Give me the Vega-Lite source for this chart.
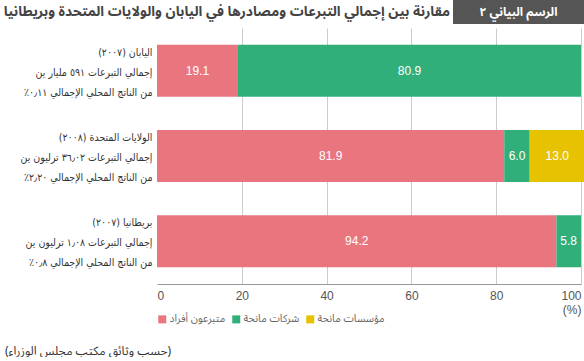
{
  "$schema": "https://vega.github.io/schema/vega-lite/v6.json",
  "padding": 0,
  "background": "white",
  "config": {"view": {"stroke": null}, "font": "Noto Sans Arabic, Noto Kufi Arabic, Noto Naskh Arabic, DejaVu Sans Condensed"},
  "datasets": {
    "header": [{"title": "مقارنة بين إجمالي التبرعات ومصادرها في اليابان والولايات المتحدة وبريطانيا", "tag": "الرسم البياني ٢"}],
    "donations": [
      {"country": "اليابان (٢٠٠٧)|إجمالي التبرعات ٥٩١ مليار ين|من الناتج المحلي الإجمالي ٠٫١١٪", "source": "متبرعون أفراد", "rank": 1, "value": 19.1},
      {"country": "اليابان (٢٠٠٧)|إجمالي التبرعات ٥٩١ مليار ين|من الناتج المحلي الإجمالي ٠٫١١٪", "source": "شركات مانحة", "rank": 2, "value": 80.9},
      {"country": "الولايات المتحدة (٢٠٠٨)|إجمالي التبرعات ٣٦٫٠٢ ترليون ين|من الناتج المحلي الإجمالي ٢٫٢٠٪", "source": "متبرعون أفراد", "rank": 1, "value": 81.9},
      {"country": "الولايات المتحدة (٢٠٠٨)|إجمالي التبرعات ٣٦٫٠٢ ترليون ين|من الناتج المحلي الإجمالي ٢٫٢٠٪", "source": "شركات مانحة", "rank": 2, "value": 6.0},
      {"country": "الولايات المتحدة (٢٠٠٨)|إجمالي التبرعات ٣٦٫٠٢ ترليون ين|من الناتج المحلي الإجمالي ٢٫٢٠٪", "source": "مؤسسات مانحة", "rank": 3, "value": 13.0},
      {"country": "بريطانيا (٢٠٠٧)|إجمالي التبرعات ١٫٠٨ ترليون ين|من الناتج المحلي الإجمالي ٠٫٨٪", "source": "متبرعون أفراد", "rank": 1, "value": 94.2},
      {"country": "بريطانيا (٢٠٠٧)|إجمالي التبرعات ١٫٠٨ ترليون ين|من الناتج المحلي الإجمالي ٠٫٨٪", "source": "شركات مانحة", "rank": 2, "value": 5.8}
    ]
  },
  "spacing": 4,
  "vconcat": [
    {
      "spacing": 0,
      "hconcat": [
        {
          "width": 296, "height": 24,
          "data": {"name": "header"},
          "mark": {"type": "text", "fontSize": 13.8, "fontWeight": "bold", "color": "#444444", "align": "right", "dx": -3, "limit": 448},
          "encoding": {"text": {"field": "title"}, "x": {"value": "width"}}
        },
        {
          "width": 131, "height": 24,
          "view": {"fill": "#555555", "stroke": null},
          "data": {"name": "header"},
          "mark": {"type": "text", "fontSize": 12, "fontWeight": "bold", "color": "white"},
          "encoding": {"text": {"field": "tag"}}
        }
      ]
    },
    {
      "width": 424, "height": 256,
      "data": {"name": "donations"},
      "title": {"text": "(حسب وثائق مكتب مجلس الوزراء)", "orient": "bottom", "anchor": "start", "frame": "bounds", "fontSize": 12, "fontWeight": "normal", "color": "#333333", "offset": 31, "dx": 5},
      "transform": [
        {"stack": "value", "groupby": ["country"], "sort": [{"field": "rank"}], "as": ["v0", "v1"]},
        {"calculate": "(datum.v0 + datum.v1) / 2", "as": "mid"}
      ],
      "encoding": {
        "y": {
          "field": "country", "type": "nominal", "sort": null,
          "scale": {"paddingInner": 0.39, "paddingOuter": 0.195},
          "axis": {"title": null, "domain": false, "ticks": false, "labelExpr": "split('\u202B' + replace(datum.label, /\\|/g, '\u202C|\u202B') + '\u202C', '|')", "labelLineHeight": 20, "labelFontSize": 10.5, "labelFont": "DejaVu Sans Condensed", "labelColor": "#333333", "labelPadding": 5, "labelLimit": 0, "labelAlign": "right", "labelBaseline": "middle", "labelOffset": -18, "minExtent": 157, "maxExtent": 157}
        }
      },
      "layer": [
        {
          "mark": {"type": "bar"},
          "encoding": {
            "x": {"field": "v0", "type": "quantitative", "scale": {"domain": [0, 100], "nice": false},
              "axis": {"title": null, "values": [0, 20, 40, 60, 80, 100], "grid": true, "gridColor": {"condition": {"test": "datum.value == 0", "value": "transparent"}, "value": "#cccccc"}, "domainColor": "#999999", "ticks": false, "labelFlush": true, "labelExpr": "datum.value == 100 ? ['100', '(%)'] : datum.label", "labelFontSize": 12, "labelColor": "#555555", "labelPadding": 6, "labelLineHeight": 14, "labelFont": "Liberation Sans"}},
            "x2": {"field": "v1"},
            "color": {"field": "source", "type": "nominal",
              "scale": {"domain": ["متبرعون أفراد", "شركات مانحة", "مؤسسات مانحة"], "range": ["#E9757F", "#30AF7B", "#E6C200"]},
              "legend": {"orient": "none", "legendX": 0, "legendY": 314, "direction": "horizontal", "title": null, "symbolType": "square", "symbolSize": 64, "symbolStrokeWidth": 0, "labelFontSize": 10.5, "labelColor": "#666666", "columnPadding": 5, "labelOffset": 2}}
          }
        },
        {
          "mark": {"type": "text", "color": "white", "fontSize": 12, "font": "Liberation Sans"},
          "encoding": {
            "x": {"field": "mid", "type": "quantitative"},
            "text": {"field": "value", "type": "quantitative", "format": ".1f"}
          }
        }
      ]
    }
  ]
}
